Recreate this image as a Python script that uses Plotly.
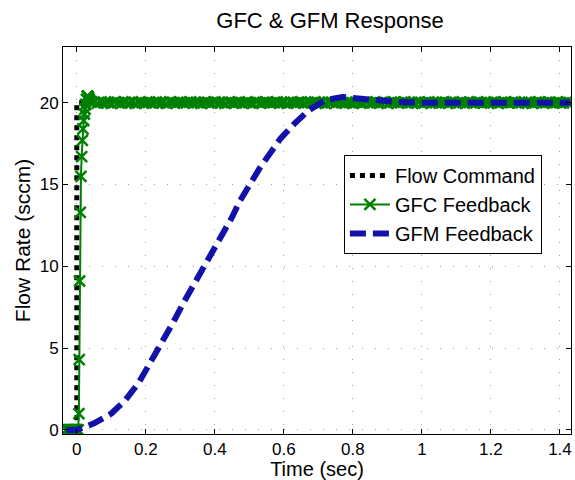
import plotly.graph_objects as go

# ---------------- data ----------------
cmd_t = [-0.03, 0.0, 0.0, 1.43]
cmd_y = [0.0, 0.0, 20.0, 20.0]

gfc_t_trans = [-0.03, -0.028, -0.026, -0.024, -0.022, -0.02, -0.018, -0.016, -0.014, -0.012,
               -0.01, -0.008, -0.006, -0.004, -0.002, 0.0, 0.002, 0.004,
               0.006, 0.007, 0.008, 0.010, 0.012, 0.014, 0.016, 0.018, 0.020, 0.022,
               0.024, 0.026, 0.028, 0.030, 0.032, 0.034, 0.036, 0.038, 0.040]
gfc_y_trans = [0, 0, 0, 0, 0, 0, 0, 0, 0, 0,
               0, 0, 0, 0, 0, 0, 0, 0,
               1.0, 4.3, 9.1, 13.3, 15.5, 16.7, 17.7, 18.4, 18.9, 19.3,
               19.6, 19.9, 20.2, 20.4, 20.4, 20.3, 20.2, 20.1, 20.05]
gfc_t_ss_start = 0.05
gfc_t_ss_step = 0.01
gfc_y_ss = [20.03, 19.97, 20.04, 19.98, 20.02, 19.96, 20.05, 20.00, 19.97, 20.03,
            19.99, 20.04, 19.96, 20.02, 20.00, 19.98, 20.05, 19.97, 20.03, 19.99,
            20.01, 19.96, 20.04, 20.00, 19.98, 20.03, 19.97, 20.02, 20.05, 19.98,
            20.00, 19.96, 20.03, 20.01, 19.97, 20.04, 19.99, 20.02, 19.96, 20.03,
            20.00, 19.98, 20.04, 19.97, 20.02, 20.00, 19.96, 20.05, 19.98, 20.01,
            20.03, 19.97, 20.00, 20.04, 19.98, 20.02, 19.96, 20.03, 19.99, 20.01,
            20.04, 19.97, 20.02, 19.99, 20.05, 19.98, 20.00, 19.96, 20.03, 20.01,
            19.97, 20.04, 20.00, 19.98, 20.02, 19.96, 20.03, 20.00, 19.99, 20.05,
            19.97, 20.02, 20.00, 19.98, 20.04, 19.96, 20.01, 20.03, 19.98, 20.00,
            20.04, 19.97, 20.02, 19.99, 20.03, 19.96, 20.01, 20.05, 19.98, 20.00,
            19.97, 20.03, 20.01, 19.99, 20.04, 19.96, 20.02, 20.00, 19.98, 20.03,
            19.97, 20.05, 20.00, 19.98, 20.02, 19.99, 20.04, 19.96, 20.01, 20.03,
            19.98, 20.00, 20.04, 19.97, 20.02, 19.99, 20.03, 19.96, 20.01, 20.04,
            19.98, 20.00, 20.03, 19.97, 20.02, 20.00, 19.99, 20.04, 19.98]

gfm_t = [-0.03, 0.0, 0.02, 0.05, 0.10, 0.14, 0.18, 0.21, 0.25, 0.28, 0.31, 0.34, 0.37,
         0.40, 0.42, 0.45, 0.47, 0.50, 0.53, 0.56, 0.59, 0.63, 0.67, 0.70, 0.72, 0.77,
         0.82, 0.87, 0.92, 1.00, 1.10, 1.20, 1.30, 1.43]
gfm_y = [0.0, 0.0, 0.15, 0.4, 1.0, 1.8, 2.9, 4.0, 5.4, 6.6, 7.8, 8.9, 10.0,
         11.1, 11.9, 13.0, 13.9, 15.0, 16.0, 16.9, 17.8, 18.7, 19.5, 19.9, 20.15, 20.35,
         20.25, 20.1, 20.05, 20.0, 20.0, 20.0, 20.0, 20.0]

x_ticks = [0, 0.2, 0.4, 0.6, 0.8, 1.0, 1.2, 1.4]
x_tick_labels = ["0", "0.2", "0.4", "0.6", "0.8", "1", "1.2", "1.4"]
y_ticks = [0, 5, 10, 15, 20]
y_tick_labels = ["0", "5", "10", "15", "20"]

title_text = "GFC & GFM Response"
x_label = "Time (sec)"
y_label = "Flow Rate (sccm)"

# ---------------- build ----------------
gfc_t = list(gfc_t_trans) + [round(gfc_t_ss_start + i * gfc_t_ss_step, 4) for i in range(len(gfc_y_ss))]
gfc_y = list(gfc_y_trans) + list(gfc_y_ss)

FONT = "Liberation Sans, Arial, sans-serif"
GREEN = "#008000"
BLUE = "#1212aa"

fig = go.Figure()
fig.add_trace(go.Scatter(
    x=cmd_t, y=cmd_y, mode="lines", name="Flow Command",
    line=dict(color="black", width=5, dash="5px,5px"),
))
fig.add_trace(go.Scatter(
    x=gfc_t, y=gfc_y, mode="lines+markers", name="GFC Feedback",
    line=dict(color=GREEN, width=2),
    marker=dict(symbol="x-thin", size=11, color=GREEN, line=dict(color=GREEN, width=2.5)),
))
fig.add_trace(go.Scatter(
    x=gfm_t, y=gfm_y, mode="lines", name="GFM Feedback",
    line=dict(color=BLUE, width=6, dash="16px,7px"),
))

axis_common = dict(
    showline=True, linecolor="black", linewidth=1, mirror="ticks",
    ticks="inside", ticklen=5, tickcolor="black", tickwidth=1,
    showgrid=True, gridcolor="#a0a0a0", gridwidth=1, griddash="1px,12px",
    zeroline=False,
    tickfont=dict(family=FONT, size=17, color="black"),
)

fig.update_layout(
    width=575, height=480,
    margin=dict(l=63, r=4, t=47, b=46),
    paper_bgcolor="white", plot_bgcolor="white",
    title=dict(text=title_text, x=330 / 575, xanchor="center", y=1 - 20 / 480, yanchor="middle",
               xref="container", font=dict(family=FONT, size=22, color="black")),
    xaxis=dict(range=[-0.04, 1.432], tickvals=x_ticks, ticktext=x_tick_labels,
               title=dict(text=x_label, standoff=3, font=dict(family=FONT, size=20, color="black")),
               **axis_common),
    yaxis=dict(range=[-0.25, 23.4], tickvals=y_ticks, ticktext=y_tick_labels,
               title=dict(text=y_label, standoff=3, font=dict(family=FONT, size=21, color="black")),
               **axis_common),
    legend=dict(x=0.553, y=0.721, xanchor="left", yanchor="top",
                bgcolor="white", bordercolor="black", borderwidth=1,
                font=dict(family=FONT, size=20, color="black"),
                itemwidth=40, tracegroupgap=0),
    showlegend=True,
)

fig.write_html("out.html")
